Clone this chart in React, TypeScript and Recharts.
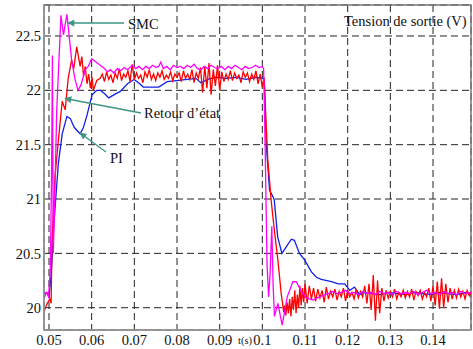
import React from 'react';
import { LineChart, Line, XAxis, YAxis, CartesianGrid, ReferenceArea } from 'recharts';

const xTicks = [0.05, 0.06, 0.07, 0.08, 0.09, 0.1, 0.11, 0.12, 0.13, 0.14];
const yTicks = [20, 20.5, 21, 21.5, 22, 22.5];
const xDomain: [number, number] = [0.04883, 0.1489];
const yDomain: [number, number] = [19.795, 22.785];

// [t (s), V]
const smc: [number, number][] = [
  [0.0488, 20.08], [0.0494, 20.14], [0.0499, 20.1], [0.0503, 20.35], [0.0506, 21.2], [0.0508, 22.32],
  [0.051, 20.5], [0.0513, 20.9], [0.0518, 21.8], [0.0528, 22.69], [0.0534, 22.51], [0.0542, 22.7],
  [0.0553, 22.28], [0.0561, 22.1], [0.0568, 22.0], [0.0575, 22.05], [0.0585, 22.19], [0.0592, 22.22],
  [0.06, 22.29], [0.061, 22.26], [0.062, 22.23], [0.063, 22.2], [0.0637, 22.17], [0.0644, 22.19],
  [0.0652, 22.16], [0.066, 22.2], [0.0668, 22.18], [0.0676, 22.21], [0.0684, 22.19], [0.0695, 22.23],
  [0.0703, 22.2], [0.0711, 22.22], [0.0719, 22.19], [0.0727, 22.22], [0.0735, 22.2], [0.0743, 22.23],
  [0.0751, 22.21], [0.0757, 22.22], [0.0762, 22.26], [0.0768, 22.2], [0.0776, 22.22], [0.0784, 22.19],
  [0.0792, 22.23], [0.08, 22.21], [0.0808, 22.22], [0.0816, 22.2], [0.0824, 22.23], [0.0832, 22.21],
  [0.084, 22.24], [0.0848, 22.2], [0.0856, 22.19], [0.0864, 22.22], [0.0872, 22.2], [0.088, 22.23],
  [0.0888, 22.21], [0.0896, 22.2], [0.0904, 22.22], [0.0912, 22.19], [0.092, 22.22], [0.0928, 22.2],
  [0.0936, 22.23], [0.0944, 22.21], [0.0952, 22.19], [0.096, 22.22], [0.0968, 22.2], [0.0976, 22.21],
  [0.0984, 22.23], [0.0992, 22.21], [0.1, 22.22], [0.1003, 22.2], [0.10065, 21.5], [0.1011, 20.4],
  [0.10147, 20.1], [0.1018, 20.3], [0.10222, 20.75], [0.10253, 20.2], [0.10284, 19.92], [0.10364, 20.04],
  [0.10465, 19.84], [0.10583, 20.1], [0.10717, 20.24], [0.10795, 20.24], [0.10913, 20.15], [0.1103, 20.09],
  [0.11188, 20.07], [0.11337, 20.1], [0.11542, 20.13], [0.1165, 20.15], [0.1175, 20.13], [0.1185, 20.14],
  [0.1195, 20.16], [0.1205, 20.13], [0.1215, 20.14], [0.1225, 20.12], [0.1235, 20.15], [0.1245, 20.13],
  [0.1255, 20.14], [0.1265, 20.12], [0.1275, 20.15], [0.1285, 20.13], [0.1295, 20.14], [0.1305, 20.12],
  [0.1315, 20.15], [0.1325, 20.13], [0.1335, 20.14], [0.1345, 20.13], [0.1355, 20.15], [0.1365, 20.12],
  [0.1375, 20.14], [0.1385, 20.16], [0.1395, 20.13], [0.1405, 20.14], [0.1415, 20.12], [0.1425, 20.15],
  [0.1435, 20.13], [0.1445, 20.14], [0.1455, 20.12], [0.1465, 20.15], [0.1475, 20.13], [0.1489, 20.14],
];

const retour: [number, number][] = [
  [0.0488, 19.96], [0.0496, 20.04], [0.0502, 20.08], [0.0505, 20.04], [0.0507, 20.6], [0.0514, 21.2],
  [0.0521, 21.5], [0.0531, 21.9], [0.0538, 21.82], [0.0545, 22.11], [0.0553, 22.28], [0.0558, 22.2],
  [0.0565, 22.4], [0.0573, 22.22], [0.0577, 22.31], [0.0581, 22.13], [0.0585, 22.22], [0.0589, 22.06],
  [0.0593, 22.15], [0.0597, 22.02], [0.0601, 22.12], [0.0604, 22.0], [0.0612, 22.09], [0.062, 22.11],
  [0.0625, 22.15], [0.063, 22.08], [0.0635, 22.17], [0.064, 22.1], [0.0645, 22.14], [0.065, 22.07],
  [0.0655, 22.16], [0.066, 22.11], [0.0665, 22.2], [0.067, 22.09], [0.0675, 22.15], [0.068, 22.12],
  [0.0685, 22.18], [0.069, 22.08], [0.0695, 22.24], [0.07, 22.1], [0.0705, 22.16], [0.071, 22.11],
  [0.0715, 22.14], [0.072, 22.07], [0.0725, 22.17], [0.073, 22.12], [0.0735, 22.19], [0.074, 22.1],
  [0.0745, 22.15], [0.075, 22.09], [0.0755, 22.16], [0.076, 22.12], [0.0765, 22.18], [0.077, 22.1],
  [0.0775, 22.14], [0.078, 22.11], [0.0785, 22.17], [0.079, 22.09], [0.0795, 22.15], [0.08, 22.12],
  [0.0805, 22.16], [0.081, 22.08], [0.0815, 22.18], [0.082, 22.11], [0.0825, 22.15], [0.083, 22.1],
  [0.0835, 22.19], [0.084, 22.07], [0.0845, 22.16], [0.085, 22.11], [0.0855, 22.21], [0.086, 21.98],
  [0.0865, 22.22], [0.087, 22.02], [0.0875, 22.25], [0.088, 21.96], [0.0885, 22.19], [0.089, 22.04],
  [0.0895, 22.23], [0.09, 22.0], [0.0905, 22.17], [0.091, 22.08], [0.0915, 22.15], [0.092, 22.1],
  [0.0925, 22.18], [0.093, 22.09], [0.0935, 22.16], [0.094, 22.11], [0.0945, 22.14], [0.095, 22.07],
  [0.0955, 22.17], [0.096, 22.12], [0.0965, 22.16], [0.097, 22.08], [0.0975, 22.15], [0.098, 22.1],
  [0.0985, 22.18], [0.099, 22.06], [0.0995, 22.15], [0.1, 22.03], [0.1004, 22.12], [0.10128, 21.36],
  [0.10206, 20.99], [0.10285, 20.7], [0.10364, 20.44], [0.10442, 20.13], [0.1047, 20.05], [0.105, 19.96],
  [0.1052, 20.02], [0.1055, 19.93], [0.1058, 20.05], [0.1061, 19.95], [0.1064, 20.08], [0.1067, 19.92],
  [0.107, 20.1], [0.1073, 19.98], [0.1076, 20.16], [0.1079, 19.95], [0.1082, 20.12], [0.1085, 20.0],
  [0.1088, 20.2], [0.1091, 20.02], [0.1094, 20.18], [0.1097, 20.05], [0.11, 20.22], [0.1105, 20.04],
  [0.111, 20.2], [0.1115, 20.08], [0.112, 20.18], [0.1125, 20.06], [0.113, 20.17], [0.1135, 20.09],
  [0.114, 20.16], [0.1145, 20.05], [0.115, 20.19], [0.1155, 20.08], [0.116, 20.15], [0.1165, 20.1],
  [0.117, 20.17], [0.1175, 20.07], [0.118, 20.15], [0.1185, 20.1], [0.119, 20.18], [0.1195, 20.06],
  [0.12, 20.16], [0.1205, 20.1], [0.121, 20.14], [0.1215, 20.08], [0.122, 20.17], [0.1225, 20.09],
  [0.123, 20.15], [0.1235, 20.1], [0.124, 20.2], [0.1245, 20.04], [0.125, 20.22], [0.1255, 19.98],
  [0.126, 20.3], [0.1265, 19.88], [0.127, 20.25], [0.1275, 19.95], [0.128, 20.18], [0.1285, 20.06],
  [0.129, 20.16], [0.1295, 20.09], [0.13, 20.15], [0.1305, 20.1], [0.131, 20.17], [0.1315, 20.08],
  [0.132, 20.14], [0.1325, 20.1], [0.133, 20.16], [0.1335, 20.09], [0.134, 20.15], [0.1345, 20.1],
  [0.135, 20.17], [0.1355, 20.07], [0.136, 20.15], [0.1365, 20.11], [0.137, 20.16], [0.1375, 20.08],
  [0.138, 20.14], [0.1385, 20.1], [0.139, 20.18], [0.1395, 20.06], [0.14, 20.2], [0.1405, 20.02],
  [0.141, 20.24], [0.1415, 19.99], [0.142, 20.27], [0.1425, 20.0], [0.143, 20.22], [0.1435, 20.05],
  [0.144, 20.18], [0.1445, 20.08], [0.145, 20.16], [0.1455, 20.09], [0.146, 20.17], [0.1465, 20.1],
  [0.147, 20.15], [0.1475, 20.08], [0.148, 20.16], [0.1485, 20.11], [0.1489, 20.14],
];

const pi: [number, number][] = [
  [0.0488, 20.13], [0.0495, 20.14], [0.05, 20.1], [0.0505, 20.3], [0.0512, 20.8], [0.0522, 21.33],
  [0.0531, 21.6], [0.0542, 21.76], [0.055, 21.74], [0.0559, 21.66], [0.0573, 21.6], [0.058, 21.65],
  [0.0589, 21.77], [0.0601, 21.96], [0.0612, 22.0], [0.062, 22.0], [0.063, 21.97], [0.064, 21.93],
  [0.0653, 21.96], [0.0667, 21.99], [0.0684, 22.06], [0.0699, 22.1], [0.071, 22.07], [0.0721, 22.03],
  [0.0738, 22.03], [0.0757, 22.03], [0.0777, 22.08], [0.0799, 22.09], [0.0824, 22.1], [0.0844, 22.11],
  [0.0856, 22.07], [0.0872, 22.1], [0.0891, 22.12], [0.0915, 22.11], [0.0938, 22.12], [0.0962, 22.1],
  [0.0985, 22.12], [0.1002, 22.11], [0.1005, 22.05], [0.1009, 21.51], [0.1017, 21.08], [0.1025, 21.02],
  [0.1028, 20.99], [0.1036, 20.65], [0.1046, 20.5], [0.1056, 20.56], [0.1068, 20.63], [0.1075, 20.62],
  [0.1087, 20.5], [0.1099, 20.44], [0.1115, 20.33], [0.1127, 20.28], [0.1138, 20.26], [0.1162, 20.24],
  [0.1178, 20.22], [0.1193, 20.22], [0.1205, 20.16], [0.1216, 20.19], [0.1228, 20.12], [0.1237, 20.14],
  [0.1256, 20.13], [0.1276, 20.12], [0.1296, 20.14], [0.1316, 20.13], [0.1336, 20.12], [0.1356, 20.14],
  [0.1376, 20.13], [0.1396, 20.12], [0.1416, 20.14], [0.1436, 20.13], [0.1456, 20.12], [0.1476, 20.14],
  [0.1489, 20.13],
];

const toRows = (s: [number, number][]) => s.map(([t, v]) => ({ t, v }));

const FONT = 'Liberation Serif, Times New Roman, serif';
const ARROW = '#3f9585';

const fmtX = (v: number) => String(Number(v.toFixed(2)));
const tickStyle = { fill: '#111', fontSize: 14.5, fontFamily: FONT, style: { fontFamily: FONT } };

export default function App() {
  return (
    <div style={{ position: 'relative', width: 473, height: 349, background: '#fff', fontFamily: FONT }}>
      <style>{'body{margin:0} .recharts-text{font-family:"Liberation Serif",serif}'}</style>
      <LineChart width={473} height={349} margin={{ top: 5, right: 2, bottom: 0, left: 0 }}>
        <CartesianGrid stroke="#222" strokeDasharray="7 4" strokeWidth={1} />
        <XAxis
          dataKey="t"
          type="number"
          domain={xDomain}
          ticks={xTicks}
          tickFormatter={fmtX}
          allowDataOverflow
          height={19}
          tickSize={0}
          tickMargin={5}
          axisLine={{ stroke: '#999', strokeWidth: 1.5 }}
          tick={tickStyle}
        />
        <YAxis
          type="number"
          domain={yDomain}
          ticks={yTicks}
          allowDataOverflow
          width={44}
          tickSize={0}
          tickMargin={3}
          axisLine={{ stroke: '#999', strokeWidth: 1.5 }}
          tick={tickStyle}
        />
        <ReferenceArea x1={xDomain[0]} x2={xDomain[1]} y1={yDomain[0]} y2={yDomain[1]} fill="none" stroke="#777" strokeWidth={1.5} />
        <Line data={toRows(pi)} dataKey="v" stroke="#1020e8" strokeWidth={1.3} dot={false} isAnimationActive={false} />
        <Line data={toRows(retour)} dataKey="v" stroke="#ff0000" strokeWidth={1.3} dot={false} isAnimationActive={false} />
        <Line data={toRows(smc)} dataKey="v" stroke="#ff00ff" strokeWidth={1.3} dot={false} isAnimationActive={false} />
      </LineChart>
      <svg width={473} height={349} style={{ position: 'absolute', left: 0, top: 0, pointerEvents: 'none' }}>
        <defs>
          <marker id="ah" viewBox="0 0 10 10" refX="9" refY="5" markerWidth="10" markerHeight="7" orient="auto" markerUnits="userSpaceOnUse">
            <path d="M0,0 L10,5 L0,10 z" fill={ARROW} />
          </marker>
        </defs>
        <g stroke={ARROW} strokeWidth={1.3} fill="none">
          <line x1={124} y1={23} x2={68} y2={23} markerEnd="url(#ah)" />
          <line x1={141} y1={113} x2={65} y2={98.5} markerEnd="url(#ah)" />
          <line x1={106} y1={152} x2={80} y2={133} markerEnd="url(#ah)" />
        </g>
        <g fill="#111" fontSize={14.5} style={{ fontFamily: FONT }}>
          <text x={128} y={28.5}>SMC</text>
          <text x={144} y={117.5}>Retour d’état</text>
          <text x={110} y={163}>PI</text>
          <text x={344} y={26}>Tension de sortie (V)</text>
          <text x={238} y={344} fontSize={10.5}>t(s)</text>
        </g>
      </svg>
    </div>
  );
}
